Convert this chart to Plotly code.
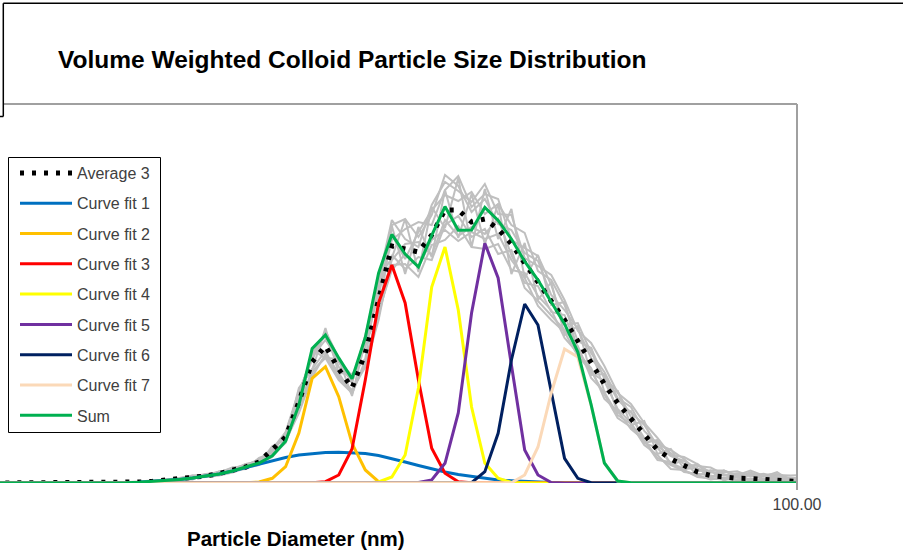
import numpy as np
import plotly.graph_objects as go

# Size classes: 30 logarithmic bins per decade (bin -1 .. 60), centres in nm
bin_index = np.arange(-1, 61)
diameter_nm = 10 ** ((bin_index + 0.5) / 30)

# Individual measurements (volume %, per bin)
rep_a = [0, 0, 0, 0, 0, 0, 0, 0, 0, 0.003, 0.006,
         0.012, 0.02, 0.03, 0.045, 0.065, 0.08, 0.105, 0.145, 0.18, 0.23,
         0.32, 0.49, 0.88, 1.28, 1.49, 1.21, 1.01, 1.38, 1.98, 2.58,
         2.64, 2.46, 2.68, 3.08, 2.97, 2.71, 2.84, 2.59, 2.53, 2.30,
         2.22, 1.88, 1.73, 1.54, 1.25, 1.07, 0.83, 0.70, 0.58, 0.37,
         0.27, 0.22, 0.14, 0.115, 0.075, 0.097, 0.075, 0.093, 0.05, 0.055, 0.04]
rep_b = [0, 0, 0, 0, 0, 0, 0, 0, 0, 0.001, 0.004,
         0.009, 0.017, 0.026, 0.038, 0.055, 0.06, 0.095, 0.115, 0.16, 0.19,
         0.26, 0.41, 0.74, 1.14, 1.32, 1.07, 0.92, 1.18, 1.75, 2.23,
         2.39, 2.41, 2.28, 2.63, 2.47, 2.56, 2.49, 2.64, 2.28, 2.00,
         1.97, 1.71, 1.68, 1.34, 1.10, 1.02, 0.74, 0.60, 0.40, 0.35,
         0.20, 0.14, 0.15, 0.055, 0.085, 0.027, 0.085, 0.043, 0.06, 0.035, 0.05]
rep_c = [0, 0, 0, 0, 0, 0, 0, 0, 0.001, 0.003, 0.007,
         0.013, 0.022, 0.032, 0.046, 0.065, 0.09, 0.105, 0.155, 0.17, 0.24,
         0.31, 0.50, 0.90, 1.26, 1.43, 1.23, 1.07, 1.36, 1.93, 2.48,
         2.24, 2.51, 2.73, 2.88, 2.82, 2.91, 2.69, 2.79, 2.58, 2.50,
         2.12, 2.03, 1.78, 1.42, 1.35, 1.04, 0.92, 0.66, 0.45, 0.41,
         0.30, 0.19, 0.17, 0.155, 0.085, 0.057, 0.105, 0.063, 0.11, 0.025, 0.03]
rep_d = [0, 0, 0, 0, 0, 0, 0, 0, 0, 0.001, 0.004,
         0.008, 0.015, 0.025, 0.036, 0.045, 0.07, 0.085, 0.125, 0.14, 0.21,
         0.27, 0.42, 0.70, 1.06, 1.29, 1.10, 0.89, 1.23, 1.68, 2.18,
         2.19, 2.06, 2.38, 2.43, 2.57, 2.36, 2.34, 2.39, 2.13, 2.10,
         1.87, 1.73, 1.45, 1.30, 1.15, 0.84, 0.72, 0.54, 0.43, 0.25,
         0.18, 0.12, 0.08, 0.035, 0.055, 0.027, 0.035, 0.013, 0.03, 0.005, 0.01]
rep_e = [0, 0, 0, 0, 0, 0, 0, 0, 0.001, 0.004, 0.008,
         0.014, 0.024, 0.035, 0.05, 0.075, 0.08, 0.115, 0.135, 0.19, 0.22,
         0.33, 0.47, 0.84, 1.30, 1.47, 1.16, 1.03, 1.43, 1.88, 2.43,
         2.54, 2.61, 2.58, 2.93, 3.07, 2.76, 2.89, 2.84, 2.43, 2.35,
         2.27, 1.98, 1.58, 1.60, 1.30, 1.11, 0.85, 0.76, 0.52, 0.39,
         0.33, 0.24, 0.12, 0.125, 0.125, 0.077, 0.125, 0.073, 0.08, 0.075, 0.08]
rep_f = [0, 0, 0, 0, 0, 0, 0, 0, 0, 0.002, 0.005,
         0.01, 0.016, 0.027, 0.037, 0.055, 0.06, 0.075, 0.105, 0.15, 0.18,
         0.28, 0.40, 0.76, 1.10, 1.27, 1.05, 0.93, 1.16, 1.63, 2.28,
         2.14, 2.26, 2.23, 2.58, 2.67, 2.46, 2.54, 2.29, 2.33, 1.95,
         1.82, 1.68, 1.53, 1.37, 1.05, 0.91, 0.68, 0.59, 0.38, 0.28,
         0.14, 0.13, 0.06, 0.045, 0.035, 0.037, 0.045, 0.023, 0.02, 0.015, 0.02]
rep_g = [0, 0, 0, 0, 0, 0, 0, 0, 0, 0.002, 0.006,
         0.011, 0.02, 0.03, 0.042, 0.065, 0.07, 0.105, 0.145, 0.17, 0.23,
         0.34, 0.51, 0.92, 1.23, 1.52, 1.25, 1.00, 1.48, 2.03, 2.63,
         2.44, 2.36, 2.78, 3.01, 2.92, 2.81, 2.99, 2.69, 2.68, 2.25,
         2.17, 2.08, 1.83, 1.52, 1.40, 1.17, 0.90, 0.79, 0.60, 0.45,
         0.28, 0.26, 0.19, 0.105, 0.105, 0.117, 0.065, 0.083, 0.09, 0.045, 0.06]
rep_h = [0, 0, 0, 0, 0, 0, 0, 0, 0, 0.001, 0.004,
         0.009, 0.018, 0.027, 0.039, 0.045, 0.07, 0.095, 0.115, 0.15, 0.20,
         0.29, 0.43, 0.72, 1.12, 1.25, 1.03, 0.90, 1.20, 1.71, 2.13,
         2.29, 2.16, 2.43, 2.53, 2.42, 2.51, 2.44, 2.49, 2.23, 2.05,
         1.77, 1.63, 1.51, 1.27, 1.12, 0.89, 0.65, 0.56, 0.42, 0.23,
         0.21, 0.11, 0.09, 0.075, 0.045, 0.057, 0.025, 0.033, 0.04, 0.005, 0.02]
rep_i = [0, 0, 0, 0, 0, 0, 0, 0, 0, 0.002, 0.006,
         0.012, 0.02, 0.03, 0.045, 0.075, 0.06, 0.115, 0.115, 0.19, 0.19,
         0.37, 0.43, 0.95, 1.13, 1.55, 1.10, 1.09, 1.24, 2.05, 2.25,
         2.64, 2.11, 2.76, 2.55, 3.05, 2.36, 2.94, 2.44, 2.74, 2.05,
         2.28, 1.78, 1.81, 1.32, 1.35, 0.91, 0.92, 0.58, 0.62, 0.29,
         0.34, 0.14, 0.19, 0.055, 0.125, 0.057, 0.105, 0.023, 0.08, 0.035, 0.07]
rep_j = [0, 0, 0, 0, 0, 0, 0, 0, 0, 0.001, 0.003,
         0.007, 0.013, 0.022, 0.034, 0.035, 0.09, 0.085, 0.155, 0.14, 0.25,
         0.30, 0.51, 0.71, 1.33, 1.25, 1.24, 0.87, 1.42, 1.65, 2.57,
         2.09, 2.56, 2.26, 2.93, 2.45, 2.89, 2.39, 2.79, 2.09, 2.40,
         1.83, 2.01, 1.48, 1.57, 1.08, 1.09, 0.70, 0.72, 0.40, 0.43,
         0.18, 0.23, 0.07, 0.125, 0.025, 0.087, 0.025, 0.083, 0.02, 0.045, 0.03]
replicates = [rep_a, rep_b, rep_c, rep_d, rep_e, rep_f, rep_g, rep_h, rep_i, rep_j]

average_3 = [0, 0, 0, 0, 0, 0, 0, 0, 0, 0.002, 0.005,
             0.01, 0.018, 0.028, 0.04, 0.055, 0.07, 0.095, 0.125, 0.16, 0.21,
             0.33, 0.46, 0.81, 1.21, 1.37, 1.14, 0.95, 1.30, 1.83, 2.37,
             2.34, 2.31, 2.48, 2.73, 2.73, 2.61, 2.64, 2.54, 2.39, 2.20,
             2.03, 1.83, 1.63, 1.42, 1.20, 0.99, 0.80, 0.64, 0.48, 0.33,
             0.24, 0.17, 0.11, 0.075, 0.055, 0.047, 0.045, 0.033, 0.03, 0.015, 0.01]

# Fitted component peaks
fit_1 = [0, 0, 0, 0, 0, 0, 0, 0, 0, 0.001, 0.003,
         0.008, 0.015, 0.023, 0.035, 0.05, 0.07, 0.09, 0.12, 0.155, 0.19,
         0.225, 0.255, 0.28, 0.295, 0.305, 0.308, 0.305, 0.295, 0.275, 0.245,
         0.21, 0.175, 0.14, 0.11, 0.085, 0.065, 0.045, 0.03, 0.022, 0.015,
         0.01, 0.006, 0.004, 0.002, 0.001, 0, 0, 0, 0, 0,
         0, 0, 0, 0, 0, 0, 0, 0, 0, 0, 0]
fit_2 = [0, 0, 0, 0, 0, 0, 0, 0, 0, 0, 0,
         0, 0, 0, 0, 0, 0, 0, 0, 0.002, 0.01,
         0.047, 0.163, 0.50, 1.047, 1.163, 0.863, 0.397, 0.13, 0.013, 0.001,
         0, 0, 0, 0, 0, 0, 0, 0, 0, 0,
         0, 0, 0, 0, 0, 0, 0, 0, 0, 0,
         0, 0, 0, 0, 0, 0, 0, 0, 0, 0, 0]
fit_3 = [0, 0, 0, 0, 0, 0, 0, 0, 0, 0, 0,
         0, 0, 0, 0, 0, 0, 0, 0, 0, 0,
         0, 0, 0, 0.002, 0.013, 0.08, 0.34, 1.03, 1.80, 2.18,
         1.80, 1.03, 0.347, 0.097, 0.013, 0.002, 0, 0, 0, 0,
         0, 0, 0, 0, 0, 0, 0, 0, 0, 0,
         0, 0, 0, 0, 0, 0, 0, 0, 0, 0, 0]
fit_4 = [0, 0, 0, 0, 0, 0, 0, 0, 0, 0, 0,
         0, 0, 0, 0, 0, 0, 0, 0, 0, 0,
         0, 0, 0, 0, 0, 0, 0, 0, 0.01, 0.06,
         0.28, 0.95, 1.96, 2.36, 1.73, 0.76, 0.20, 0.047, 0.005, 0,
         0, 0, 0, 0, 0, 0, 0, 0, 0, 0,
         0, 0, 0, 0, 0, 0, 0, 0, 0, 0, 0]
fit_5 = [0, 0, 0, 0, 0, 0, 0, 0, 0, 0, 0,
         0, 0, 0, 0, 0, 0, 0, 0, 0, 0,
         0, 0, 0, 0, 0, 0, 0, 0, 0, 0,
         0, 0.005, 0.03, 0.197, 0.70, 1.70, 2.397, 2.05, 1.18, 0.33,
         0.08, 0.005, 0, 0, 0, 0, 0, 0, 0, 0,
         0, 0, 0, 0, 0, 0, 0, 0, 0, 0, 0]
fit_6 = [0, 0, 0, 0, 0, 0, 0, 0, 0, 0, 0,
         0, 0, 0, 0, 0, 0, 0, 0, 0, 0,
         0, 0, 0, 0, 0, 0, 0, 0, 0, 0,
         0, 0, 0, 0, 0, 0.003, 0.113, 0.497, 1.23, 1.79,
         1.58, 0.897, 0.247, 0.047, 0.003, 0, 0, 0, 0, 0,
         0, 0, 0, 0, 0, 0, 0, 0, 0, 0, 0]
fit_7 = [0, 0, 0, 0, 0, 0, 0, 0, 0, 0, 0,
         0, 0, 0, 0, 0, 0, 0, 0, 0, 0,
         0, 0, 0, 0, 0, 0, 0, 0, 0, 0,
         0, 0, 0, 0, 0, 0, 0, 0.001, 0.003, 0.08,
         0.36, 0.90, 1.34, 1.26, 0.78, 0.20, 0.02, 0.002, 0, 0,
         0, 0, 0, 0, 0, 0, 0, 0, 0, 0, 0]

fit_names = ["Curve fit 1", "Curve fit 2", "Curve fit 3", "Curve fit 4",
             "Curve fit 5", "Curve fit 6", "Curve fit 7"]
fit_colors = ["#0070C0", "#FFC000", "#FF0000", "#FFFF00",
              "#7030A0", "#002060", "#FBD9B8"]
fits = [fit_1, fit_2, fit_3, fit_4, fit_5, fit_6, fit_7]

# Sum of the fitted components
fit_sum = np.sum(np.array(fits), axis=0)

FONT = "Arial, 'Liberation Sans', sans-serif"

fig = go.Figure()

for vals in replicates:
    fig.add_trace(go.Scatter(
        x=diameter_nm, y=vals, mode="lines",
        line=dict(color="#BFBFBF", width=2),
        showlegend=False, hoverinfo="skip"))

fig.add_trace(go.Scatter(
    x=diameter_nm, y=average_3, mode="lines", name="Average 3",
    legendgroup="avg",
    line=dict(color="black", width=5, dash="4px,8px")))

for name, vals, color in zip(fit_names, fits, fit_colors):
    fig.add_trace(go.Scatter(
        x=diameter_nm, y=vals, mode="lines", name=name,
        legendgroup=name, line=dict(color=color, width=3)))

fig.add_trace(go.Scatter(
    x=diameter_nm, y=fit_sum, mode="lines", name="Sum",
    legendgroup="sum", line=dict(color="#00B050", width=3)))

# plot area: x 0..797 px, y 104..483 px
PW, PH, TOP, BASE = 797.0, 379.0, 104.0, 483.0


def px(x):
    return x / PW


def py(y):
    return (BASE - y) / PH


border_gray = "#A0A0A0"
shapes = [
    # legend frame
    dict(type="rect", xref="paper", yref="paper", x0=px(8.5), x1=px(160.5),
         y0=py(432.5), y1=py(157.5), layer="below",
         line=dict(color="black", width=1), fillcolor="white"),
    # plot-area border (top and right)
    dict(type="line", xref="paper", yref="paper", x0=px(3), x1=1, y0=1, y1=1,
         line=dict(color=border_gray, width=2)),
    dict(type="line", xref="paper", yref="paper", x0=1, x1=1, y0=py(490), y1=1,
         line=dict(color=border_gray, width=2)),
    # chart frame
    dict(type="line", xref="paper", yref="paper", x0=px(3.3), x1=px(903), y0=py(3.3), y1=py(3.3),
         line=dict(color="black", width=1.5)),
    dict(type="line", xref="paper", yref="paper", x0=px(3.3), x1=px(3.3), y0=py(116.5), y1=py(3.3),
         line=dict(color="black", width=1.5)),
    dict(type="line", xref="paper", yref="paper", x0=0, x1=px(3.3), y0=py(116.5), y1=py(116.5),
         line=dict(color="black", width=1.5)),
]

annotations = [
    dict(text="<b>Volume Weighted Colloid Particle Size Distribution</b>",
         xref="paper", yref="paper", x=px(56), y=py(60), xanchor="left", yanchor="middle",
         showarrow=False, font=dict(family=FONT, size=24.5, color="black")),
    dict(text="<b>Particle Diameter (nm)</b>",
         xref="paper", yref="paper", x=px(295.5), y=py(538), xanchor="center", yanchor="middle",
         showarrow=False, font=dict(family=FONT, size=20.5, color="black")),
]

fig.update_layout(
    width=903, height=560, autosize=False,
    margin=dict(l=0, r=903 - 797, t=104, b=560 - 483, autoexpand=False),
    paper_bgcolor="white", plot_bgcolor="white",
    font=dict(family=FONT, size=16, color="#404040"),
    xaxis=dict(type="log", range=[0, 2], tickvals=[100], ticktext=["100.00"],
               showgrid=False, zeroline=False, showline=False, ticks="",
               ticklabelstandoff=10,
               tickfont=dict(family=FONT, size=16, color="#404040")),
    yaxis=dict(range=[0, 3.79], visible=False, showgrid=False, zeroline=False),
    legend=dict(x=px(15), y=py(156), xanchor="left", yanchor="top",
                borderwidth=0, bgcolor="rgba(0,0,0,0)",
                font=dict(family=FONT, size=16, color="#404040"),
                traceorder="grouped", tracegroupgap=6.5, itemwidth=52),
    shapes=shapes,
    annotations=annotations,
    showlegend=True,
)

fig.write_html("out.html")
